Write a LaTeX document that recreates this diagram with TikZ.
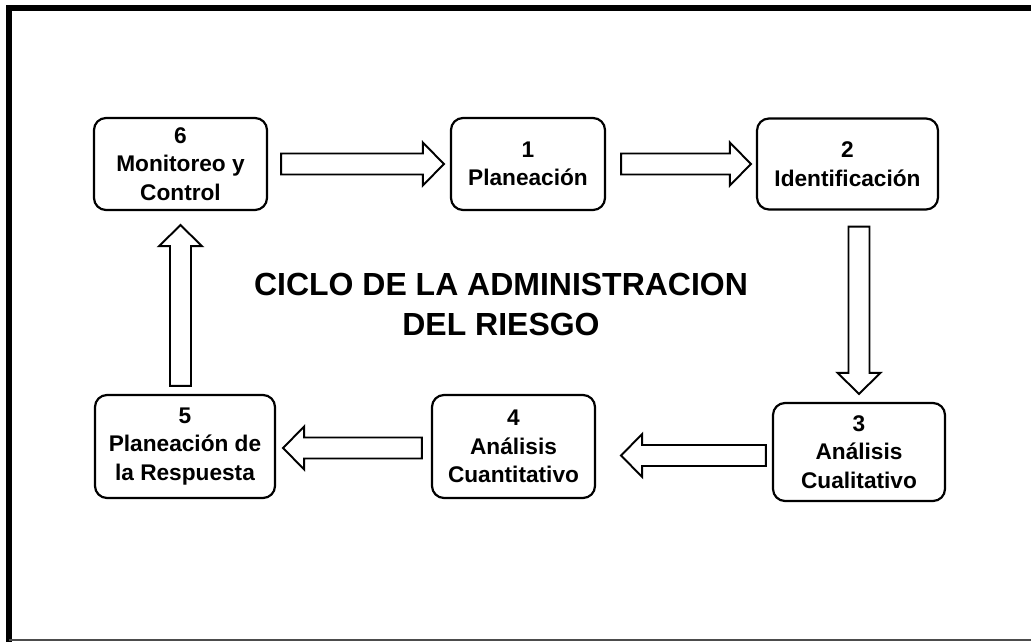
\documentclass[tikz,border=0pt]{standalone}
\usepackage{fontspec}
\setmainfont{Liberation Sans}
\usepackage{tikz}
\usetikzlibrary{calc}

% block arrow between two points (shaft, head and tip)
\newcommand{\blockarrow}[2]{%
  \draw[arrowline] let \p1=(#1), \p2=(#2),
    \n1={atan2(\y2-\y1,\x2-\x1)}, \n2={veclen(\x2-\x1,\y2-\y1)} in
    [shift={(\p1)}, rotate=\n1]
    (0pt,-5.97pt) -- (\n2-11.95pt,-5.97pt) -- (\n2-11.95pt,-12.2pt) -- (\n2,0pt)
    -- (\n2-11.95pt,12.2pt) -- (\n2-11.95pt,5.97pt) -- (0pt,5.97pt) -- cycle;}

\begin{document}
\begin{tikzpicture}[x=0.02cm, y=0.02cm,
  stage/.style={draw, line width=1.25pt, rounded corners=6.8pt, align=center,
    inner sep=0pt, font=\fontsize{12.9}{16.2}\selectfont\bfseries},
  arrowline/.style={draw, line width=1.1pt, fill=white, line join=miter},
  titletext/.style={align=center, inner sep=0pt,
    font=\fontsize{18.2}{22.8}\selectfont\bfseries}]

\useasboundingbox (0,0) rectangle (1031,642);

% Frame
\draw[line width=3.1pt] (9,0) -- (9,634) -- (1031,634);
\draw[line width=0.8pt, black!70] (9,2) -- (1031,2);

% Stages of the cycle
\node[stage, minimum width=3.46cm, minimum height=1.84cm] (b6) at (180.5,478) {6\\Monitoreo y\\Control};
\node[stage, minimum width=3.08cm, minimum height=1.84cm] (b1) at (528,478) {1\\Planeación};
\node[stage, minimum width=3.62cm, minimum height=1.82cm] (b2) at (847.5,478) {2\\Identificación};
\node[stage, minimum width=3.44cm, minimum height=1.96cm] (b3) at (859,190) {3\\Análisis\\Cualitativo};
\node[stage, minimum width=3.26cm, minimum height=2.06cm] (b4) at (513.5,195.5) {4\\Análisis\\Cuantitativo};
\node[stage, minimum width=3.60cm, minimum height=2.06cm] (b5) at (185,195.5) {5\\Planeación de\\la Respuesta};

% Title in the middle
\node[titletext] (title) at (501,337.5) {CICLO DE LA ADMINISTRACION\\DEL RIESGO};

% Arrows
\blockarrow{$(b6.east)+(13,0)$}{$(b1.west)+(-6,0)$}
\blockarrow{$(b1.east)+(15,0)$}{$(b2.west)+(-5,0)$}
\blockarrow{$(b2.south -| b3.north)+(0,-16)$}{$(b3.north)+(0,8)$}
\blockarrow{$(b3.west)+(-6,-3.5)$}{$(b3.west -| b4.east)+(25,-3.5)$}
\blockarrow{$(b4.west)+(-9,-1.5)$}{$(b5.east)+(7,-1.5)$}
\blockarrow{$(b5.north -| b6.south)+(0,8)$}{$(b6.south)+(0,-14)$}

\end{tikzpicture}
\end{document}
